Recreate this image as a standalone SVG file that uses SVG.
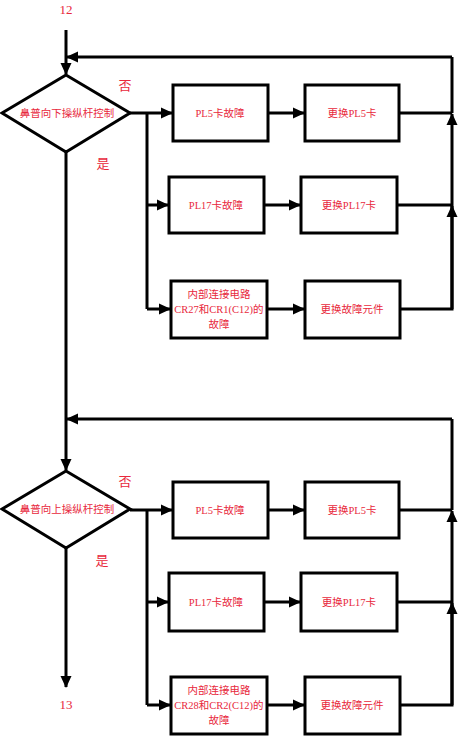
<svg xmlns="http://www.w3.org/2000/svg" width="458" height="736" viewBox="0 0 458 736">
<defs>
<marker id="ah" markerWidth="12" markerHeight="12" refX="11" refY="6" orient="auto" markerUnits="userSpaceOnUse">
<path d="M0,0.5 L12,6 L0,11.5 Z" fill="#000"/>
</marker>
<style>
.n{fill:#fff;stroke:#000;stroke-width:3}
.c{fill:none;stroke:#000;stroke-width:3}
.t{font-family:"Liberation Serif","Noto Sans CJK SC",serif;font-size:10.5px;fill:#e8283c;text-anchor:middle}
.l{font-size:13px}
</style>
</defs>
<rect width="458" height="736" fill="#fff"/>
<g id="connectors">
<path class="c" d="M66,30 V74" marker-end="url(#ah)"/>
<path class="c" d="M452,57 H67" marker-end="url(#ah)"/>
<path class="c" d="M130,113 H172" marker-end="url(#ah)"/>
<path class="c" d="M147,113 V309"/>
<path class="c" d="M147,205 H168" marker-end="url(#ah)"/>
<path class="c" d="M147,309 H170" marker-end="url(#ah)"/>
<path class="c" d="M268,113 H304" marker-end="url(#ah)"/>
<path class="c" d="M264,205 H300" marker-end="url(#ah)"/>
<path class="c" d="M267,309 H304" marker-end="url(#ah)"/>
<path class="c" d="M399,113 H452"/>
<path class="c" d="M397,205 H452"/>
<path class="c" d="M400,309 H452 V114" marker-end="url(#ah)"/>
<path class="c" d="M452,57 V113"/>
<path class="c" d="M452,309 V206" marker-end="url(#ah)"/>
<path class="c" d="M66,152 V470" marker-end="url(#ah)"/>
<path class="c" d="M452,419 H67" marker-end="url(#ah)"/>
<path class="c" d="M130,510 H172" marker-end="url(#ah)"/>
<path class="c" d="M147,510 V705"/>
<path class="c" d="M147,602 H168" marker-end="url(#ah)"/>
<path class="c" d="M147,705 H170" marker-end="url(#ah)"/>
<path class="c" d="M268,510 H304" marker-end="url(#ah)"/>
<path class="c" d="M264,602 H300" marker-end="url(#ah)"/>
<path class="c" d="M267,705 H304" marker-end="url(#ah)"/>
<path class="c" d="M399,510 H452"/>
<path class="c" d="M397,602 H452"/>
<path class="c" d="M400,705 H452 V511" marker-end="url(#ah)"/>
<path class="c" d="M452,419 V510"/>
<path class="c" d="M452,705 V603" marker-end="url(#ah)"/>
<path class="c" d="M66,548 V687" marker-end="url(#ah)"/>
</g>
<text class="t l" x="66" y="14">12</text>
<text class="t l" x="66" y="709">13</text>
<text class="t l" x="125" y="90">否</text>
<text class="t l" x="103" y="168">是</text>
<text class="t l" x="125" y="486">否</text>
<text class="t l" x="102" y="565">是</text>
<g id="d1"><path class="n" d="M66,75 L130,113 L66,152 L2,113 Z"/><text class="t" x="67" y="117">鼻普向下操纵杆控制</text></g>
<g id="b1"><rect class="n" x="173" y="85" width="95" height="56"/><text class="t" x="220" y="117">PL5卡故障</text></g>
<g id="b2"><rect class="n" x="305" y="85" width="94" height="56"/><text class="t" x="352" y="117">更换PL5卡</text></g>
<g id="b3"><rect class="n" x="169" y="177" width="95" height="56"/><text class="t" x="216" y="209">PL17卡故障</text></g>
<g id="b4"><rect class="n" x="301" y="177" width="96" height="56"/><text class="t" x="349" y="209">更换PL17卡</text></g>
<g id="b5"><rect class="n" x="171" y="281" width="96" height="57"/><text class="t" x="219" y="298">内部连接电路</text><text class="t" x="219" y="313">CR27和CR1(C12)的</text><text class="t" x="219" y="328">故障</text></g>
<g id="b6"><rect class="n" x="305" y="281" width="95" height="57"/><text class="t" x="352" y="313">更换故障元件</text></g>
<g id="d2"><path class="n" d="M66,471 L130,509 L66,548 L2,509 Z"/><text class="t" x="67" y="513">鼻普向上操纵杆控制</text></g>
<g id="b7"><rect class="n" x="173" y="482" width="95" height="56"/><text class="t" x="220" y="514">PL5卡故障</text></g>
<g id="b8"><rect class="n" x="305" y="482" width="94" height="56"/><text class="t" x="352" y="514">更换PL5卡</text></g>
<g id="b9"><rect class="n" x="169" y="573" width="95" height="58"/><text class="t" x="216" y="606">PL17卡故障</text></g>
<g id="b10"><rect class="n" x="301" y="573" width="96" height="58"/><text class="t" x="349" y="606">更换PL17卡</text></g>
<g id="b11"><rect class="n" x="171" y="677" width="96" height="57"/><text class="t" x="219" y="694">内部连接电路</text><text class="t" x="219" y="709">CR28和CR2(C12)的</text><text class="t" x="219" y="724">故障</text></g>
<g id="b12"><rect class="n" x="305" y="677" width="95" height="57"/><text class="t" x="352" y="709">更换故障元件</text></g>
</svg>
